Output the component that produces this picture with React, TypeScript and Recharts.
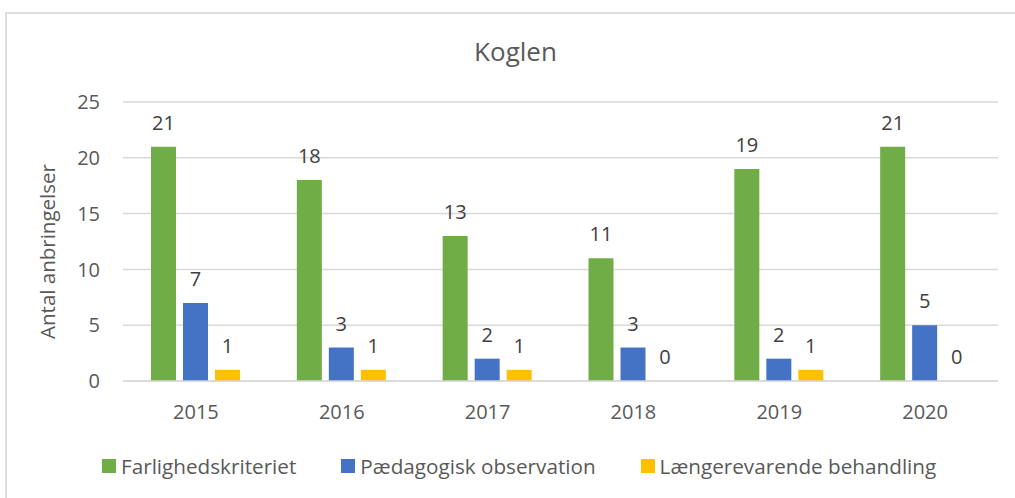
import React from 'react';
import { BarChart, Bar, XAxis, YAxis, CartesianGrid, Legend, LabelList, Label } from 'recharts';

const categories = ['2015', '2016', '2017', '2018', '2019', '2020'];
const farlighed = [21, 18, 13, 11, 19, 21];
const paedagogisk = [7, 3, 2, 3, 2, 5];
const laengere = [1, 1, 1, 0, 1, 0];
const yTicks = [0, 5, 10, 15, 20, 25];
const seriesNames = ['Farlighedskriteriet', 'Pædagogisk observation', 'Længerevarende behandling'];
const seriesColors = ['#70AD47', '#4472C4', '#FFC000'];
const title = 'Koglen';
const yLabel = 'Antal anbringelser';

const data = categories.map((c, i) => ({ year: c, f: farlighed[i], p: paedagogisk[i], l: laengere[i] }));

const FONT = '"Open Sans", sans-serif';
const TEXT = '#595959';

const renderLegend = (props: any) => {
  const items = [...(props.payload || [])].sort(
    (a: any, b: any) => seriesNames.indexOf(a.value) - seriesNames.indexOf(b.value)
  );
  return (
    <div style={{ display: 'flex', height: 30, alignItems: 'center', paddingLeft: 102, fontFamily: FONT }}>
      {items.map((e: any, i: number) => (
        <div key={i} style={{ display: 'flex', alignItems: 'center', marginRight: 45 }}>
          <span style={{ display: 'inline-block', width: 14, height: 14, background: e.color, marginRight: 5 }} />
          <span style={{ fontSize: 20.7, color: TEXT, whiteSpace: 'nowrap' }}>{e.value}</span>
        </div>
      ))}
    </div>
  );
};

const renderYLabel = (props: any) => {
  const vb = props.viewBox || { x: 0, y: 0, width: 0, height: 0 };
  const cx = vb.x + 47;
  const cy = vb.y + vb.height / 2 + 10;
  return (
    <text x={cx} y={cy} transform={`rotate(-90, ${cx}, ${cy})`} textAnchor="middle" dominantBaseline="central" fill={TEXT} fontSize={20.5} fontFamily={FONT}>
      {yLabel}
    </text>
  );
};

export default function App() {
  return (
    <div style={{ position: 'absolute', left: 0, top: 0, width: 1015, height: 498, overflow: 'hidden', background: '#fff', fontFamily: FONT }}>
      <div style={{ position: 'absolute', left: 5, top: 12, width: 1020, height: 500, borderTop: '2px solid #DEDEDE', borderLeft: '2px solid #DEDEDE' }} />
      <div style={{ position: 'absolute', left: 0, top: 38, width: 1031, textAlign: 'center', fontSize: 26, lineHeight: '26px', color: TEXT }}>{title}</div>
      <div style={{ position: 'absolute', left: 0, top: 0 }}>
        <BarChart width={1015} height={498} data={data} margin={{ top: 102, right: 17, left: 0, bottom: 57 }} barGap={7}>
          <CartesianGrid vertical={false} stroke="#D9D9D9" strokeWidth={1.5} />
          <XAxis dataKey="year" axisLine={{ stroke: '#D9D9D9', strokeWidth: 1.5 }} tickLine={false} tickMargin={18} tick={{ fill: TEXT, fontSize: 20 }} />
          <YAxis width={123} domain={[0, 25]} ticks={yTicks} axisLine={false} tickLine={false} tickMargin={17} tick={{ fill: TEXT, fontSize: 20 }}>
            <Label content={renderYLabel} position="insideLeft" />
          </YAxis>
          <Legend content={renderLegend} verticalAlign="bottom" wrapperStyle={{ bottom: 17, left: 0, width: 1015 }} />
          <Bar dataKey="f" name={seriesNames[0]} fill={seriesColors[0]} barSize={25} minPointSize={0.01} isAnimationActive={false}>
            <LabelList dataKey="f" position="top" offset={17} fill="#404040" fontSize={20} />
          </Bar>
          <Bar dataKey="p" name={seriesNames[1]} fill={seriesColors[1]} barSize={25} minPointSize={0.01} isAnimationActive={false}>
            <LabelList dataKey="p" position="top" offset={17} fill="#404040" fontSize={20} />
          </Bar>
          <Bar dataKey="l" name={seriesNames[2]} fill={seriesColors[2]} barSize={25} minPointSize={0.01} isAnimationActive={false}>
            <LabelList dataKey="l" position="top" offset={17} fill="#404040" fontSize={20} />
          </Bar>
        </BarChart>
      </div>
    </div>
  );
}
